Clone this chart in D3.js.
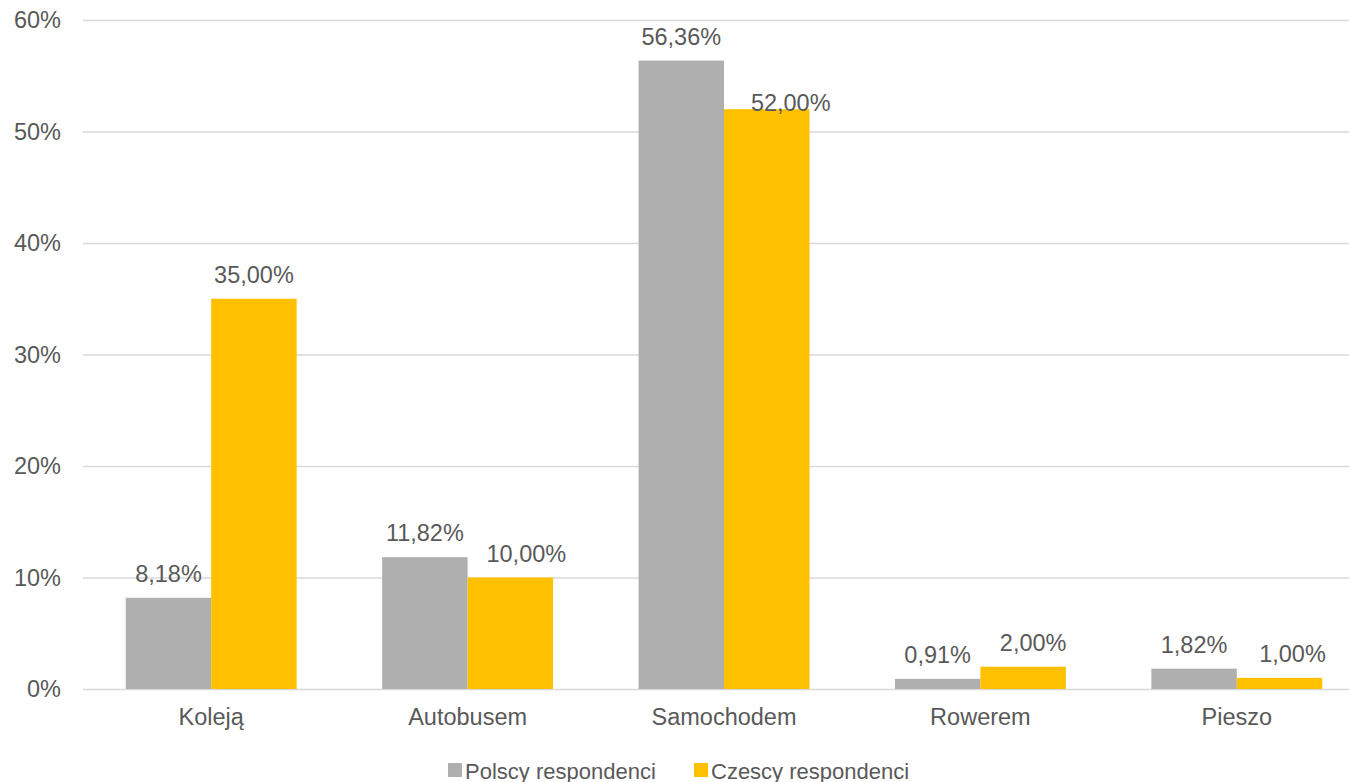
<!DOCTYPE html>
<html>
<head>
<meta charset="utf-8">
<script src="https://cdn.jsdelivr.net/npm/d3@7"></script>
<style>
  html, body { margin: 0; padding: 0; background: #fff; }
  svg { display: block; font-family: "Liberation Sans", Arial, sans-serif; }
</style>
</head>
<body>
<svg id="chart" width="1349" height="782"></svg>
<script>
// data
var categories = ["Koleją", "Autobusem", "Samochodem", "Rowerem", "Pieszo"];
var seriesNames = ["Polscy respondenci", "Czescy respondenci"];
var polscy = [8.18, 11.82, 56.36, 0.91, 1.82];
var czescy = [35.00, 10.00, 52.00, 2.00, 1.00];
var yTicks = [0, 10, 20, 30, 40, 50, 60];

var colors = ["#AFAFAF", "#FFC000"];
var textColor = "#595959";

// labels that were dragged by hand in the original
var labelNudge = {
    "1-1": [16, 0],
    "1-2": [24, 18],
    "1-3": [10, 0],
    "1-4": [13, 0]
};

var svg = d3.select("#chart");
var margin = {top: 20, left: 83, right: -16, bottom: 93};
var W = 1349, H = 782;

var x0 = d3.scaleBand()
    .domain(categories)
    .range([margin.left, W - margin.right])
    .paddingInner(1 / 3)
    .paddingOuter(1 / 6);
var x1 = d3.scaleBand()
    .domain([0, 1])
    .range([0, x0.bandwidth()]);
var y = d3.scaleLinear()
    .domain([0, 60])
    .range([H - margin.bottom, margin.top]);

// gridlines + y labels
var yAxis = d3.axisLeft(y)
    .tickValues(yTicks)
    .tickSize(-(W - margin.left))
    .tickPadding(22)
    .tickFormat(function(d) { return d + "%"; });
var gy = svg.append("g")
    .attr("transform", "translate(" + margin.left + ",0)")
    .call(yAxis);
gy.select(".domain").remove();
gy.selectAll(".tick line").attr("stroke", "#D9D9D9").attr("stroke-width", 1.4);
gy.selectAll(".tick text")
    .attr("fill", textColor)
    .style("font-size", "23.5px");

var series = [polscy, czescy];
var rows = [];
categories.forEach(function(c, i) {
    series.forEach(function(s, j) {
        rows.push({cat: c, ci: i, si: j, v: s[i]});
    });
});

svg.append("g").selectAll("rect")
    .data(rows)
    .enter().append("rect")
    .attr("x", function(d) { return x0(d.cat) + x1(d.si); })
    .attr("width", x1.bandwidth())
    .attr("y", function(d) { return y(d.v); })
    .attr("height", function(d) { return y(0) - y(d.v); })
    .attr("fill", function(d) { return colors[d.si]; });

svg.append("g").selectAll("text")
    .data(rows)
    .enter().append("text")
    .attr("x", function(d) {
        var n = labelNudge[d.si + "-" + d.ci];
        return x0(d.cat) + x1(d.si) + x1.bandwidth() / 2 + (n ? n[0] : 0);
    })
    .attr("y", function(d) {
        var n = labelNudge[d.si + "-" + d.ci];
        return y(d.v) - 16 + (n ? n[1] : 0);
    })
    .attr("text-anchor", "middle")
    .attr("fill", textColor)
    .style("font-size", "23.5px")
    .text(function(d) { return d.v.toFixed(2).replace(".", ",") + "%"; });

// category axis
var xAxis = d3.axisBottom(x0).tickSize(0).tickPadding(36);
var gx = svg.append("g")
    .attr("transform", "translate(0," + y(0) + ")")
    .call(xAxis);
gx.select(".domain").remove();
gx.selectAll(".tick text")
    .attr("fill", textColor)
    .style("font-size", "23.5px")
    .attr("dy", "0");

// legend
var legendX = [448, 694];
var lg = svg.append("g").selectAll("g")
    .data(seriesNames)
    .enter().append("g")
    .attr("transform", function(d, i) { return "translate(" + legendX[i] + ",770)"; });
lg.append("rect")
    .attr("x", 0).attr("y", -7)
    .attr("width", 14).attr("height", 14)
    .attr("fill", function(d, i) { return colors[i]; });
lg.append("text")
    .attr("x", 17)
    .attr("y", 8.5)
    .attr("fill", textColor)
    .style("font-size", "22px")
    .text(function(d) { return d; });
</script>
</body>
</html>
